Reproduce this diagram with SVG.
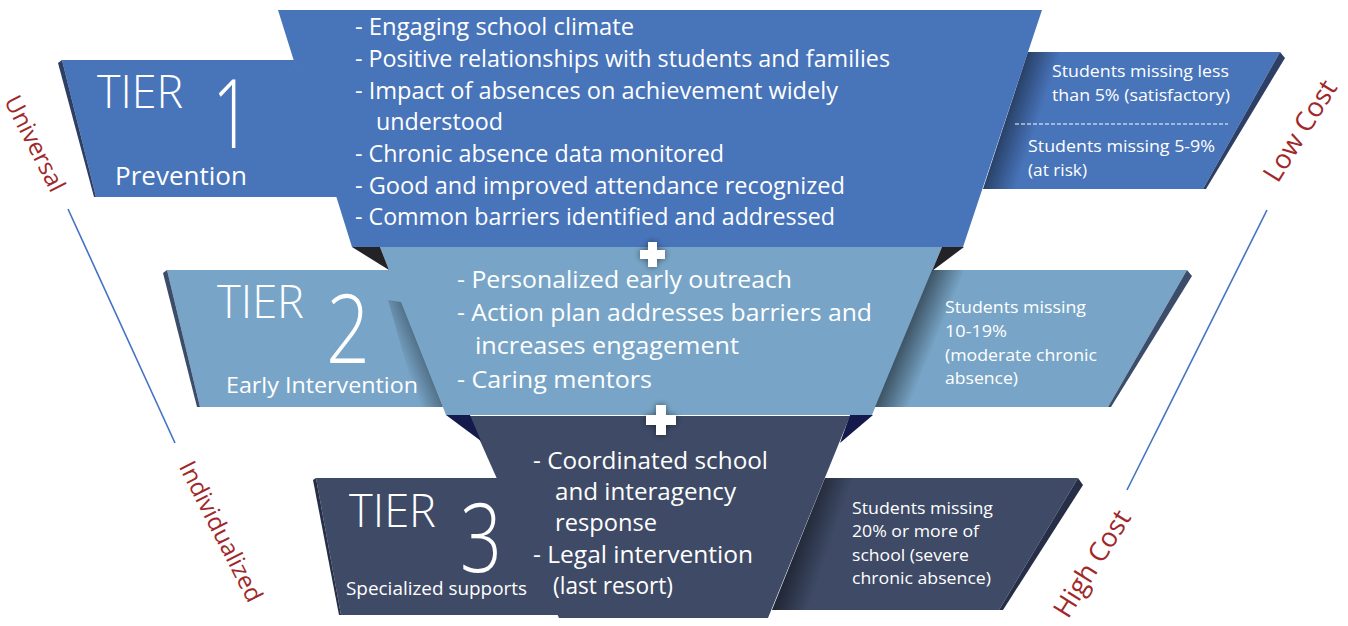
<svg xmlns="http://www.w3.org/2000/svg" width="1348" height="626" viewBox="0 0 1348 626">
<style>
.t1{fill:#4874ba}
.t2{fill:#78a5c7}
.t3{fill:#3e4a66}
.gap1{fill:#232327}
.gap2{fill:#151a4c}
.edge1{fill:#2e3f66}
.edge2{fill:#3c4d6c}
.edge3{fill:#262f47}
text{font-family:"Open Sans","Noto Sans","Liberation Sans",sans-serif;fill:#ffffff}
.big{font-size:24px}
.small{font-size:15.5px}
.tier{font-size:46px;font-weight:300}
.num{font-size:96px;font-weight:300}
.side{fill:#a0282a;font-size:24px}
.cost{font-size:27px}
.axis{stroke:#4472c4;stroke-width:1.6;fill:none}
.plus{fill:#ffffff;filter:url(#ps)}
</style>
<defs>
<filter id="ps" x="-50%" y="-50%" width="200%" height="200%">
<feDropShadow dx="0" dy="0" stdDeviation="3" flood-color="#000" flood-opacity="0.5"/>
</filter>
<linearGradient id="sh1" gradientUnits="userSpaceOnUse" x1="1005" y1="120" x2="1035" y2="130">
<stop offset="0" stop-color="#000" stop-opacity="0.45"/><stop offset="1" stop-color="#000" stop-opacity="0"/>
</linearGradient>
<linearGradient id="sh2" gradientUnits="userSpaceOnUse" x1="903" y1="339" x2="932" y2="351">
<stop offset="0" stop-color="#000" stop-opacity="0.5"/><stop offset="1" stop-color="#000" stop-opacity="0"/>
</linearGradient>
<linearGradient id="sh3" gradientUnits="userSpaceOnUse" x1="797" y1="547" x2="826" y2="557">
<stop offset="0" stop-color="#000" stop-opacity="0.45"/><stop offset="1" stop-color="#000" stop-opacity="0"/>
</linearGradient>
<linearGradient id="sh2l" gradientUnits="userSpaceOnUse" x1="425" y1="360" x2="405" y2="368">
<stop offset="0" stop-color="#000" stop-opacity="0.32"/><stop offset="1" stop-color="#000" stop-opacity="0"/>
</linearGradient>
</defs>

<g id="axes">
<line class="axis" x1="68" y1="209" x2="175" y2="443"/>
<line class="axis" x1="1267" y1="210" x2="1127" y2="490"/>
<text class="side" transform="translate(36,143) rotate(63)" text-anchor="middle" dominant-baseline="central">Universal</text>
<text class="side" transform="translate(222,531) rotate(63)" text-anchor="middle" dominant-baseline="central">Individualized</text>
<text class="side cost" transform="translate(1299,130) rotate(-58)" text-anchor="middle" dominant-baseline="central">Low Cost</text>
<text class="side cost" transform="translate(1091,563) rotate(-58)" text-anchor="middle" dominant-baseline="central">High Cost</text>
</g>

<g id="tier3">
<polygon class="t3" points="469,416 850,416 768,618 559,618"/>
<polygon class="t3" points="316,478 505,478 562,615 341,615"/>
<polygon class="edge3" points="313,480 316,478 341,615 339,615"/>
<polygon class="t3" points="825,478 1078,478 999,610 772,610"/>
<polygon fill="url(#sh3)" points="825,478 860,478 806,610 772,610"/>
<polygon class="edge3" points="1078,478 1083,485 1003,610 999,610"/>
<polygon class="gap2" points="446,415 470,415 481,441"/>
<polygon class="gap2" points="850,415 873,415 840,443"/>
<text class="tier" x="349" y="527" textLength="87" lengthAdjust="spacingAndGlyphs">TIER</text>
<text class="num" x="460" y="572" textLength="42" lengthAdjust="spacingAndGlyphs">3</text>
<text x="346" y="595" font-size="19" textLength="181" lengthAdjust="spacingAndGlyphs">Specialized supports</text>
<text class="big" x="533" y="469" textLength="235" lengthAdjust="spacingAndGlyphs">-  Coordinated school</text>
<text class="big" x="555" y="500" textLength="181" lengthAdjust="spacingAndGlyphs">and interagency</text>
<text class="big" x="555" y="531" textLength="102" lengthAdjust="spacingAndGlyphs">response</text>
<text class="big" x="533" y="563" textLength="220" lengthAdjust="spacingAndGlyphs">-  Legal intervention</text>
<text class="big" x="553" y="594" textLength="120" lengthAdjust="spacingAndGlyphs">(last resort)</text>
<text class="small" x="852" y="514" textLength="141" lengthAdjust="spacingAndGlyphs">Students missing</text>
<text class="small" x="852" y="537" textLength="127" lengthAdjust="spacingAndGlyphs">20% or more of</text>
<text class="small" x="852" y="561" textLength="117" lengthAdjust="spacingAndGlyphs">school (severe</text>
<text class="small" x="852" y="584" textLength="139" lengthAdjust="spacingAndGlyphs">chronic absence)</text>
</g>

<g id="tier2">
<polygon class="t2" points="380,247 942,247 872,415 446,415"/>
<polygon class="t2" points="167,270 390,270 443,407 200,407"/>
<polygon fill="url(#sh2l)" points="401,302 443,407 418,407 388,300"/>
<polygon class="edge2" points="163,273 167,270 200,407 197,407"/>
<polygon class="t2" points="932,270 1187,270 1108,407 875,407"/>
<polygon fill="url(#sh2)" points="932,270 965,270 908,407 875,407"/>
<polygon class="edge2" points="1187,270 1192,276 1111,407 1108,407"/>
<polygon class="gap1" points="352,247 380,247 389,270"/>
<polygon class="gap1" points="942,247 964,247 932,271"/>
<text class="tier" x="217" y="318" textLength="87" lengthAdjust="spacingAndGlyphs">TIER</text>
<text class="num" x="326" y="363" textLength="44" lengthAdjust="spacingAndGlyphs">2</text>
<text x="226" y="393" font-size="22" textLength="192" lengthAdjust="spacingAndGlyphs">Early Intervention</text>
<text class="big" x="457" y="288" textLength="335" lengthAdjust="spacingAndGlyphs">- Personalized early outreach</text>
<text class="big" x="457" y="321" textLength="415" lengthAdjust="spacingAndGlyphs">- Action plan addresses barriers and</text>
<text class="big" x="475" y="354" textLength="264" lengthAdjust="spacingAndGlyphs">increases engagement</text>
<text class="big" x="457" y="388" textLength="195" lengthAdjust="spacingAndGlyphs">- Caring mentors</text>
<text class="small" x="945" y="313" textLength="141" lengthAdjust="spacingAndGlyphs">Students missing</text>
<text class="small" x="945" y="337" textLength="62" lengthAdjust="spacingAndGlyphs">10-19%</text>
<text class="small" x="945" y="361" textLength="152" lengthAdjust="spacingAndGlyphs">(moderate chronic</text>
<text class="small" x="945" y="384" textLength="73" lengthAdjust="spacingAndGlyphs">absence)</text>
</g>

<g id="tier1">
<polygon class="t1" points="278,10 1042,10 963,247 352,247"/>
<polygon class="t1" points="62,60 294,60 340,197 96,197"/>
<polygon class="edge1" points="58,63 62,60 96,197 94,197"/>
<polygon class="t1" points="1028,52 1280,52 1203,189 983,189"/>
<polygon fill="url(#sh1)" points="1028,52 1062,52 1017,189 983,189"/>
<polygon class="edge1" points="1280,52 1285,58 1206,189 1203,189"/>
<text class="tier" x="97" y="108" textLength="86" lengthAdjust="spacingAndGlyphs">TIER</text>
<text class="num" x="212" y="148" textLength="40" lengthAdjust="spacingAndGlyphs">1</text>
<text x="115" y="185" font-size="26" textLength="132" lengthAdjust="spacingAndGlyphs">Prevention</text>
<text class="big" x="355" y="35" textLength="279" lengthAdjust="spacingAndGlyphs">- Engaging school climate</text>
<text class="big" x="355" y="67" textLength="535" lengthAdjust="spacingAndGlyphs">- Positive relationships with students and families</text>
<text class="big" x="355" y="99" textLength="483" lengthAdjust="spacingAndGlyphs">- Impact of absences on achievement widely</text>
<text class="big" x="376" y="130" textLength="127" lengthAdjust="spacingAndGlyphs">understood</text>
<text class="big" x="355" y="162" textLength="369" lengthAdjust="spacingAndGlyphs">- Chronic absence data monitored</text>
<text class="big" x="355" y="194" textLength="490" lengthAdjust="spacingAndGlyphs">- Good and improved attendance recognized</text>
<text class="big" x="355" y="225" textLength="480" lengthAdjust="spacingAndGlyphs">- Common barriers identified and addressed</text>
<text class="small" x="1052" y="77" textLength="177" lengthAdjust="spacingAndGlyphs">Students missing less</text>
<text class="small" x="1052" y="101" textLength="178" lengthAdjust="spacingAndGlyphs">than 5% (satisfactory)</text>
<line x1="1015" y1="124" x2="1228" y2="124" stroke="#ffffff" stroke-width="1" stroke-dasharray="4,2"/>
<text class="small" x="1028" y="152" textLength="187" lengthAdjust="spacingAndGlyphs">Students missing 5-9%</text>
<text class="small" x="1028" y="176" textLength="59" lengthAdjust="spacingAndGlyphs">(at risk)</text>
</g>

<g id="connectors">
<path class="plus" d="M648,242 h9 v8 h8 v9 h-8 v8 h-9 v-8 h-8 v-9 h8 z"/>
<path class="plus" d="M656,405 h10 v10 h10 v10 h-10 v10 h-10 v-10 h-10 v-10 h10 z"/>
</g>
</svg>
